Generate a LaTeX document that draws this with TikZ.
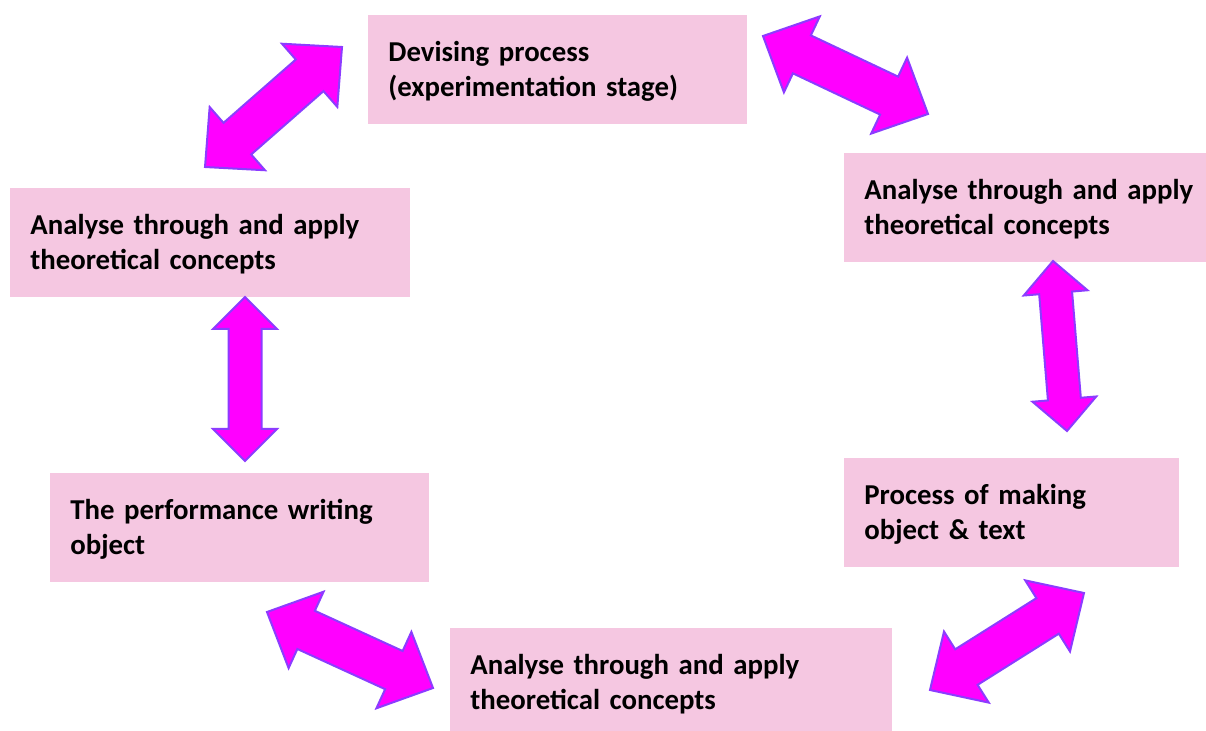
\documentclass[tikz,border=0pt]{standalone}
\usepackage{fontspec}
\setmainfont{Carlito}
\hyphenpenalty=10000
\usetikzlibrary{calc}
\definecolor{boxpink}{RGB}{245,199,225}
\definecolor{arrowfill}{RGB}{255,0,255}
\definecolor{arrowedge}{RGB}{140,60,255}
\tikzset{
	stage/.style={
		rectangle,
		fill=boxpink,
		anchor=north west,
		align=left,
		inner xsep=10pt,
		inner ysep=0pt,
		minimum height=54.5pt,
		text height=12pt,
		text depth=20.5pt,
		font=\fontsize{14.4pt}{17.6pt}\selectfont\bfseries,
	},
	twoway/.style n args={3}{
		fill=arrowfill,
		draw=arrowedge,
		line width=1pt,
		to path={
			-- ($(\tikztostart)!#3!(\tikztotarget) + (\tikztostart)!#1!90:(\tikztotarget) - (\tikztostart)$)
			-- ($(\tikztostart)!#3!(\tikztotarget) + (\tikztostart)!#2!90:(\tikztotarget) - (\tikztostart)$)
			-- ($(\tikztotarget)!#3!(\tikztostart) + (\tikztotarget)!#2!-90:(\tikztostart) - (\tikztotarget)$)
			-- ($(\tikztotarget)!#3!(\tikztostart) + (\tikztotarget)!#1!-90:(\tikztostart) - (\tikztotarget)$)
			-- (\tikztotarget)
			-- ($(\tikztotarget)!#3!(\tikztostart) + (\tikztotarget)!#1!90:(\tikztostart) - (\tikztotarget)$)
			-- ($(\tikztotarget)!#3!(\tikztostart) + (\tikztotarget)!#2!90:(\tikztostart) - (\tikztotarget)$)
			-- ($(\tikztostart)!#3!(\tikztotarget) + (\tikztostart)!#2!-90:(\tikztotarget) - (\tikztostart)$)
			-- ($(\tikztostart)!#3!(\tikztotarget) + (\tikztostart)!#1!-90:(\tikztotarget) - (\tikztostart)$)
			-- cycle
		},
	},
	bigway/.style={twoway={21pt}{10.5pt}{21.5pt}},
	smallway/.style={twoway={16pt}{8.25pt}{16pt}},
}

\begin{document}
\begin{tikzpicture}[x=0.5pt,y=-0.5pt]
	\useasboundingbox (0,0) rectangle (1206,731);

	\node[stage, text width=169.5pt] (devising) at (368,15) {Devising process\\(experimentation stage)};
	\node[stage, text width=165pt] (theoryright) at (844,153) {Analyse through and apply\\theoretical concepts};
	\node[stage, text width=180pt] (theoryleft) at (10,188) {Analyse through and apply\\theoretical concepts};
	\node[stage, text width=169.5pt] (performance) at (50,473) {The performance writing\\object};
	\node[stage, text width=147.5pt] (making) at (844,458) {Process of making\\object \& text};
	\node[stage, text width=201pt] (theorybottom) at (450,628) {Analyse through and apply\\theoretical concepts};

	\coordinate (devW) at (342,47);
	\coordinate (devE) at (763,36);
	\coordinate (theoryleftN) at (205,167);
	\coordinate (theoryleftS) at (245,297);
	\coordinate (theoryrightN) at (928,114);
	\coordinate (theoryrightS) at (1053,261);
	\coordinate (performanceN) at (245,461);
	\coordinate (performanceS) at (267,612);
	\coordinate (makingN) at (1067,431);
	\coordinate (makingS) at (1084,593);
	\coordinate (theorybottomW) at (433,688);
	\coordinate (theorybottomE) at (930,690);

	\draw[bigway] (theoryleftN) to (devW);
	\draw[bigway] (devE) to (theoryrightN);
	\draw[smallway] (theoryleftS) to (performanceN);
	\draw[smallway] (theoryrightS) to (makingN);
	\draw[bigway] (performanceS) to (theorybottomW);
	\draw[bigway] (theorybottomE) to (makingS);

\end{tikzpicture}
\end{document}
